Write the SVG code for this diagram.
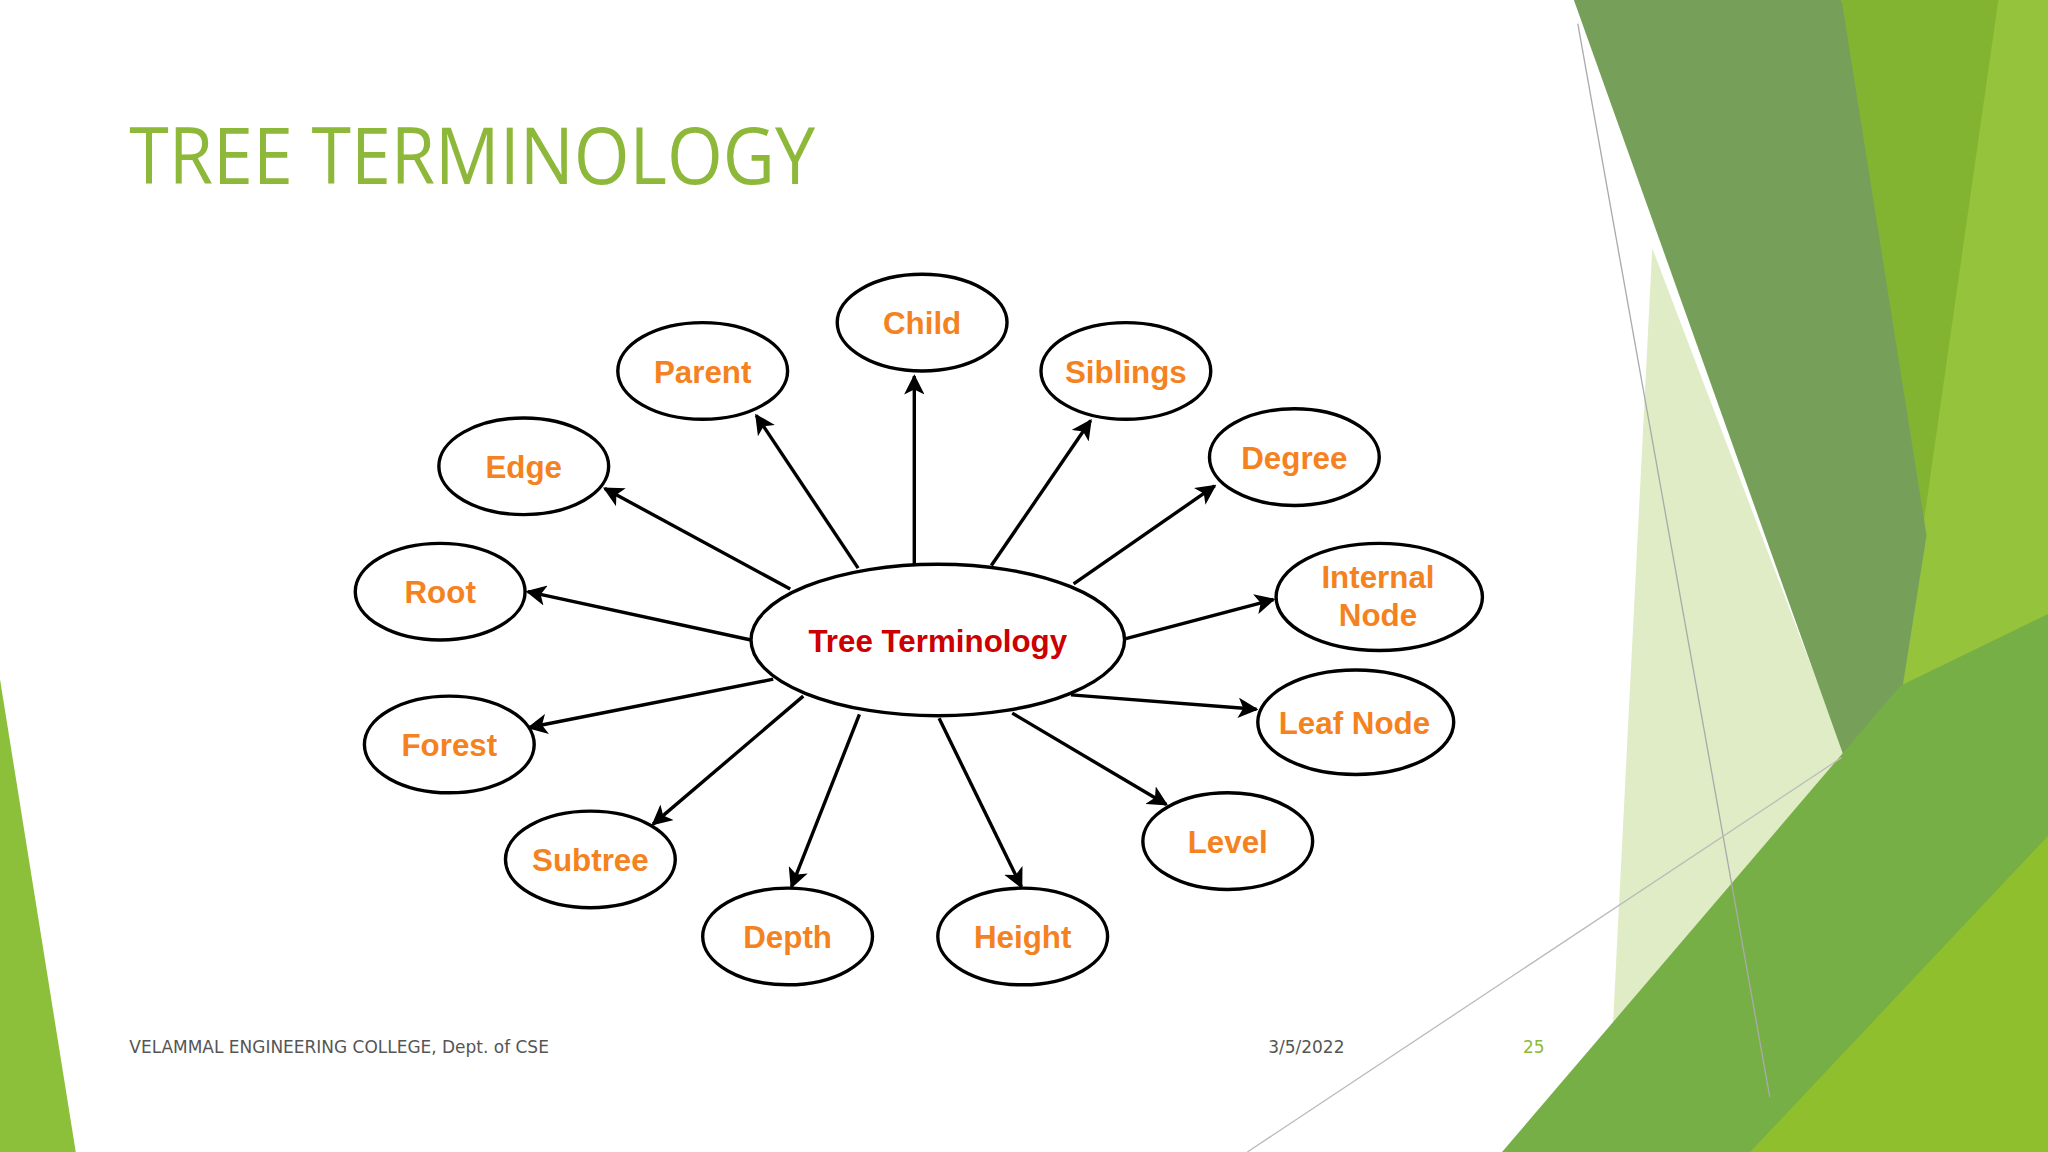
<svg xmlns="http://www.w3.org/2000/svg" width="2048" height="1152" viewBox="0 0 2048 1152">
<defs>
<style>
.n ellipse{fill:#fff;stroke:#000;stroke-width:2.6}
.n text{font-family:"Liberation Sans",Arial,sans-serif;font-weight:bold;font-size:24px;fill:#F58220;text-anchor:middle}
#conn line{stroke:#000;stroke-width:2.6;marker-end:url(#ah)}
.ft{font-family:"DejaVu Sans",sans-serif;font-size:13px;fill:#555}
</style>
<marker id="ah" viewBox="0 0 10 10" refX="9" refY="5" markerWidth="6" markerHeight="6" orient="auto" markerUnits="strokeWidth"><path d="M0,0 L10,5 L0,10 L2.5,5 z" fill="#000"/></marker>
</defs>
<rect width="2048" height="1152" fill="#fff"/>
<g transform="scale(1.30612)">
<g id="bg">
<polygon points="0,520 58,882 0,882" fill="#8DC03A"/>
<polygon points="1265,190 1440,650 1300,882 1230,882" fill="#C9DFA0" opacity="0.6"/>
<polygon points="1410,0 1568,0 1568,882 1300,882 1437,650" fill="#95C43C"/>
<polygon points="1410,0 1530,0 1470,420 1437,650" fill="#82B432"/>
<polygon points="1205,0 1410,0 1475,410 1437,650" fill="#76A05A"/>
<polygon points="1150,882 1455,525 1568,470 1568,882" fill="#77AF47"/>
<polygon points="1340,882 1568,640 1568,882" fill="#8FBF2C"/>
<line x1="1208" y1="18" x2="1355" y2="840" stroke="#aaa" stroke-width="1"/>
<line x1="955" y1="882" x2="1410" y2="580" stroke="#bbb" stroke-width="1"/>
</g>
<text x="99" y="141" font-family="'Open Sans',sans-serif" font-size="60" fill="#8DB83A" textLength="525" lengthAdjust="spacingAndGlyphs">TREE TERMINOLOGY</text>
<g id="conn">
<line x1="700" y1="432" x2="700" y2="288"/>
<line x1="657" y1="435" x2="579" y2="318"/>
<line x1="759" y1="433" x2="835" y2="322"/>
<line x1="605" y1="451" x2="463" y2="374"/>
<line x1="822" y1="447" x2="930" y2="372"/>
<line x1="575" y1="490" x2="404" y2="453"/>
<line x1="862" y1="489" x2="975" y2="459"/>
<line x1="592" y1="520" x2="405" y2="557"/>
<line x1="820" y1="532" x2="962" y2="543"/>
<line x1="615" y1="533" x2="500" y2="631"/>
<line x1="775" y1="546" x2="893" y2="616"/>
<line x1="658" y1="547" x2="606" y2="679"/>
<line x1="719" y1="550" x2="782" y2="679"/>
</g>
<g id="center" class="n"><ellipse cx="718" cy="490" rx="143" ry="58"/><text x="718" y="499" style="fill:#CC0000">Tree Terminology</text></g>
<g id="child" class="n"><ellipse cx="706" cy="247" rx="65" ry="37"/><text x="706" y="256">Child</text></g>
<g id="parent" class="n"><ellipse cx="538" cy="284" rx="65" ry="37"/><text x="538" y="293">Parent</text></g>
<g id="siblings" class="n"><ellipse cx="862" cy="284" rx="65" ry="37"/><text x="862" y="293">Siblings</text></g>
<g id="edge" class="n"><ellipse cx="401" cy="357" rx="65" ry="37"/><text x="401" y="366">Edge</text></g>
<g id="degree" class="n"><ellipse cx="991" cy="350" rx="65" ry="37"/><text x="991" y="359">Degree</text></g>
<g id="root" class="n"><ellipse cx="337" cy="453" rx="65" ry="37"/><text x="337" y="462">Root</text></g>
<g id="internal" class="n"><ellipse cx="1056" cy="457" rx="79" ry="41"/><text x="1055" y="450">Internal</text><text x="1055" y="479">Node</text></g>
<g id="forest" class="n"><ellipse cx="344" cy="570" rx="65" ry="37"/><text x="344" y="579">Forest</text></g>
<g id="leaf" class="n"><ellipse cx="1038" cy="553" rx="75" ry="40"/><text x="1037" y="562">Leaf Node</text></g>
<g id="subtree" class="n"><ellipse cx="452" cy="658" rx="65" ry="37"/><text x="452" y="667">Subtree</text></g>
<g id="level" class="n"><ellipse cx="940" cy="644" rx="65" ry="37"/><text x="940" y="653">Level</text></g>
<g id="depth" class="n"><ellipse cx="603" cy="717" rx="65" ry="37"/><text x="603" y="726">Depth</text></g>
<g id="height" class="n"><ellipse cx="783" cy="717" rx="65" ry="37"/><text x="783" y="726">Height</text></g>
<text class="ft" x="99" y="806">VELAMMAL ENGINEERING COLLEGE, Dept. of CSE</text>
<text class="ft" x="971" y="806">3/5/2022</text>
<text class="ft" x="1166" y="806" style="fill:#8DB83A">25</text>
</g>
</svg>
